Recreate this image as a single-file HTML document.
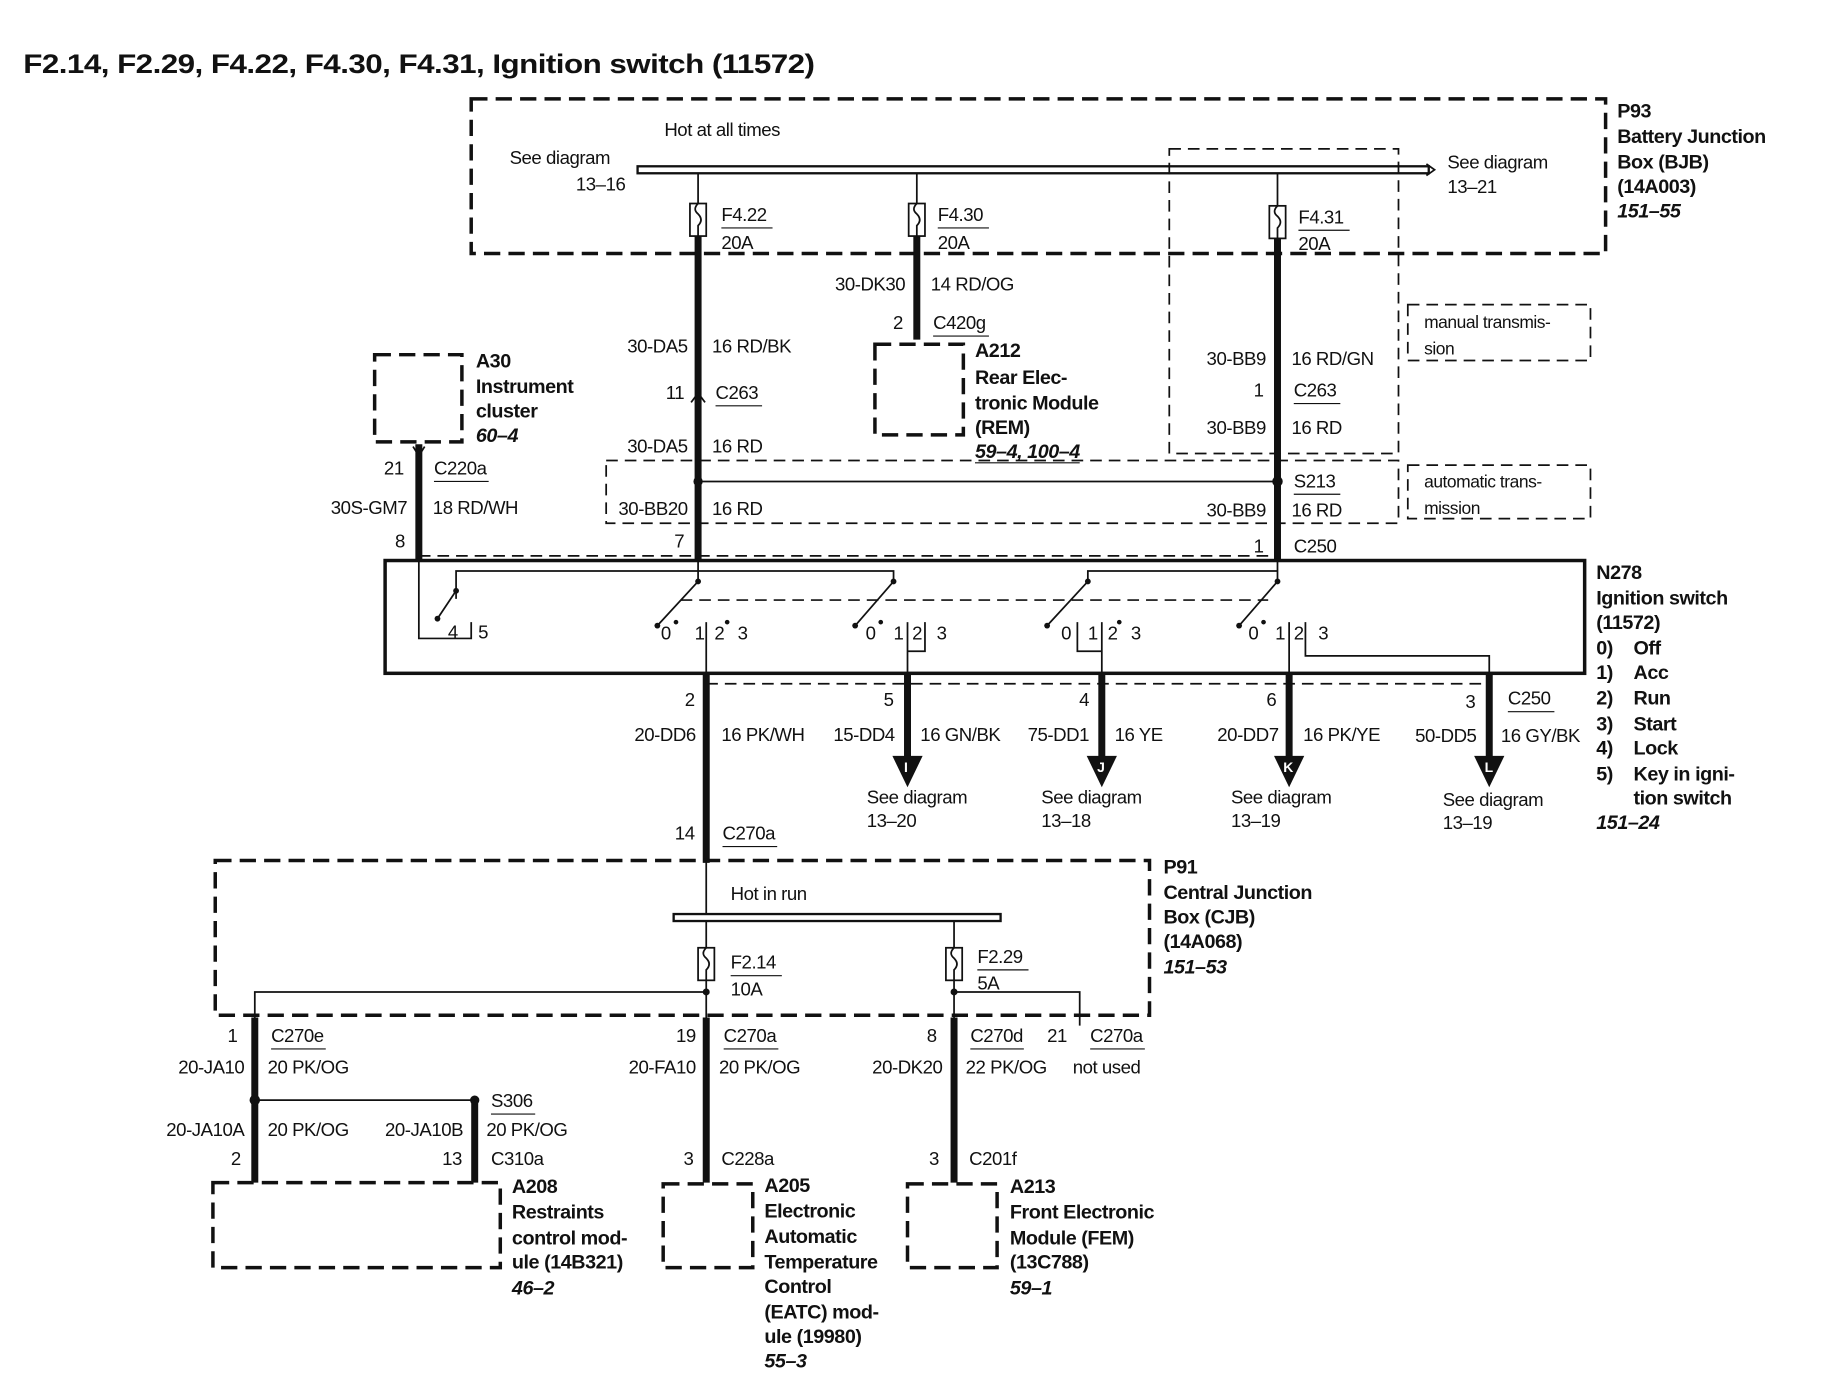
<!DOCTYPE html>
<html><head><meta charset="utf-8"><style>
html,body{margin:0;padding:0;background:#fff}
svg{display:block}
text{font-family:"Liberation Sans",Arial,sans-serif;font-size:16px;fill:#111;letter-spacing:-0.4px}
.b{font-weight:bold;font-size:17px}
.i{font-weight:bold;font-style:italic;font-size:17px}
.r{text-anchor:end}
.dk{fill:none;stroke:#111;stroke-width:3;stroke-dasharray:14 7}
.dn{fill:none;stroke:#111;stroke-width:1.5;stroke-dasharray:10 6}
.w{stroke:#111;stroke-width:6;fill:none}
.t{stroke:#111;stroke-width:1.5;fill:none}
.u{stroke:#111;stroke-width:1}
</style></head><body>
<svg width="1822" height="1392" viewBox="0 0 1566 1197" preserveAspectRatio="none" xmlns="http://www.w3.org/2000/svg">
<text x="20" y="63" style="font-size:23px;font-weight:bold" textLength="680" lengthAdjust="spacingAndGlyphs">F2.14, F2.29, F4.22, F4.30, F4.31, Ignition switch (11572)</text>

<!-- BJB -->
<rect x="405" y="85" width="975" height="133" class="dk"/>
<text x="1390" y="101" class="b">P93</text>
<text x="1390" y="123" class="b">Battery Junction</text>
<text x="1390" y="145" class="b">Box (BJB)</text>
<text x="1390" y="166" class="b">(14A003)</text>
<text x="1390" y="187" class="i">151–55</text>
<text x="571" y="117">Hot at all times</text>
<text x="438" y="141">See diagram</text>
<text x="495" y="164">13–16</text>
<rect x="548" y="143" width="680" height="6" fill="#fff" stroke="#111" stroke-width="2"/>
<path d="M1226 141 L1233 146 L1226 151" class="t"/>
<text x="1244" y="145">See diagram</text>
<text x="1244" y="166">13–21</text>
<rect x="1005" y="128" width="197" height="262" class="dn"/>

<line x1="600" y1="149" x2="600" y2="175" class="t"/><rect x="593" y="175" width="14" height="28" fill="#fff" stroke="#111" stroke-width="1.5"/><path d="M600 175 q-5 5 0 9 q5 5 0 10 v9" class="t"/>
<line x1="788" y1="149" x2="788" y2="175" class="t"/><rect x="781" y="175" width="14" height="28" fill="#fff" stroke="#111" stroke-width="1.5"/><path d="M788 175 q-5 5 0 9 q5 5 0 10 v9" class="t"/>
<line x1="1098" y1="149" x2="1098" y2="177" class="t"/><rect x="1091" y="177" width="14" height="28" fill="#fff" stroke="#111" stroke-width="1.5"/><path d="M1098 177 q-5 5 0 9 q5 5 0 10 v9" class="t"/>
<text x="620" y="190">F4.22</text><line x1="620" y1="196" x2="664" y2="196" class="u"/><text x="620" y="214">20A</text>
<text x="806" y="190">F4.30</text><line x1="806" y1="196" x2="850" y2="196" class="u"/><text x="806" y="214">20A</text>
<text x="1116" y="192">F4.31</text><line x1="1116" y1="198" x2="1160" y2="198" class="u"/><text x="1116" y="215">20A</text>

<line x1="600" y1="203" x2="600" y2="482" class="w"/>
<text x="591" y="303" class="r">30-DA5</text><text x="612" y="303">16 RD/BK</text>
<text x="588" y="343" class="r">11</text><text x="615" y="343">C263</text><line x1="615" y1="349" x2="655" y2="349" class="u"/>
<path d="M594 346 L600 338 L606 346" class="t"/>
<text x="591" y="389" class="r">30-DA5</text><text x="612" y="389">16 RD</text>
<circle cx="600" cy="414" r="4" fill="#111"/>
<line x1="600" y1="414" x2="1098" y2="414" class="t"/>
<rect x="521" y="396" width="681" height="54" class="dn"/>
<text x="591" y="443" class="r">30-BB20</text><text x="612" y="443">16 RD</text>
<text x="588" y="471" class="r">7</text>

<line x1="788" y1="203" x2="788" y2="292" class="w"/>
<text x="778" y="250" class="r">30-DK30</text><text x="800" y="250">14 RD/OG</text>
<text x="776" y="283" class="r">2</text><text x="802" y="283">C420g</text><line x1="802" y1="289" x2="850" y2="289" class="u"/>
<rect x="752" y="296" width="76" height="78" class="dk"/>
<text x="838" y="307" class="b">A212</text>
<text x="838" y="330" class="b">Rear Elec-</text>
<text x="838" y="352" class="b">tronic Module</text>
<text x="838" y="373" class="b">(REM)</text>
<text x="838" y="394" class="i">59–4, 100–4</text><line x1="838" y1="398" x2="928" y2="398" class="u"/>

<line x1="1098" y1="205" x2="1098" y2="482" class="w"/>
<text x="1088" y="314" class="r">30-BB9</text><text x="1110" y="314">16 RD/GN</text>
<text x="1086" y="341" class="r">1</text><text x="1112" y="341">C263</text><line x1="1112" y1="347" x2="1152" y2="347" class="u"/>
<text x="1088" y="373" class="r">30-BB9</text><text x="1110" y="373">16 RD</text>
<circle cx="1098" cy="414" r="4.5" fill="#111"/>
<text x="1112" y="419">S213</text><line x1="1112" y1="425" x2="1152" y2="425" class="u"/>
<text x="1088" y="444" class="r">30-BB9</text><text x="1110" y="444">16 RD</text>
<text x="1086" y="475" class="r">1</text><text x="1112" y="475">C250</text>

<rect x="1210" y="262" width="157" height="48" class="dn"/>
<text x="1224" y="282" style="font-size:15px">manual transmis-</text><text x="1224" y="305" style="font-size:15px">sion</text>
<rect x="1210" y="400" width="157" height="46" class="dn"/>
<text x="1224" y="419" style="font-size:15px">automatic trans-</text><text x="1224" y="442" style="font-size:15px">mission</text>

<rect x="322" y="305" width="75" height="75" class="dk"/>
<text x="409" y="316" class="b">A30</text>
<text x="409" y="338" class="b">Instrument</text>
<text x="409" y="359" class="b">cluster</text>
<text x="409" y="380" class="i">60–4</text>
<line x1="360" y1="382" x2="360" y2="482" class="w"/>
<path d="M355 384 L360 392 L365 384" class="t"/>
<text x="347" y="408" class="r">21</text><text x="373" y="408">C220a</text><line x1="373" y1="414" x2="420" y2="414" class="u"/>
<text x="350" y="442" class="r">30S-GM7</text><text x="372" y="442">18 RD/WH</text>
<text x="348" y="471" class="r">8</text>
<line x1="360" y1="478" x2="1098" y2="478" class="dn"/>

<rect x="331" y="482" width="1031" height="97" fill="none" stroke="#111" stroke-width="3"/>
<text x="1372" y="498" class="b">N278</text>
<text x="1372" y="520" class="b">Ignition switch</text>
<text x="1372" y="541" class="b">(11572)</text>
<text x="1372" y="563" class="b">0)</text><text x="1404" y="563" class="b">Off</text>
<text x="1372" y="584" class="b">1)</text><text x="1404" y="584" class="b">Acc</text>
<text x="1372" y="606" class="b">2)</text><text x="1404" y="606" class="b">Run</text>
<text x="1372" y="628" class="b">3)</text><text x="1404" y="628" class="b">Start</text>
<text x="1372" y="649" class="b">4)</text><text x="1404" y="649" class="b">Lock</text>
<text x="1372" y="671" class="b">5)</text><text x="1404" y="671" class="b">Key in igni-</text>
<text x="1404" y="692" class="b">tion switch</text>
<text x="1372" y="713" class="i">151–24</text>

<polyline points="392,515 392,491 768,491 768,500" class="t"/>
<polyline points="935,500 935,491 1098,491" class="t"/>
<line x1="600" y1="482" x2="600" y2="500" class="t"/>
<line x1="1098" y1="482" x2="1098" y2="500" class="t"/>
<line x1="585" y1="516" x2="1090" y2="516" class="dn"/>
<line x1="392" y1="508" x2="376" y2="532" class="t"/><circle cx="392" cy="508" r="2.5" fill="#111"/><circle cx="376" cy="532" r="2.5" fill="#111"/>
<line x1="600" y1="500" x2="565" y2="538" class="t"/><circle cx="600" cy="500" r="2.5" fill="#111"/><circle cx="565" cy="538" r="2.5" fill="#111"/>
<line x1="768" y1="500" x2="735" y2="538" class="t"/><circle cx="768" cy="500" r="2.5" fill="#111"/><circle cx="735" cy="538" r="2.5" fill="#111"/>
<line x1="935" y1="500" x2="900" y2="538" class="t"/><circle cx="935" cy="500" r="2.5" fill="#111"/><circle cx="900" cy="538" r="2.5" fill="#111"/>
<line x1="1098" y1="500" x2="1065" y2="538" class="t"/><circle cx="1098" cy="500" r="2.5" fill="#111"/><circle cx="1065" cy="538" r="2.5" fill="#111"/>
<polyline points="360,482 360,549 405,549 405,535" class="t"/>
<text x="385" y="549">4</text><text x="411" y="549">5</text>
<text x="568" y="550">0</text><circle cx="581" cy="535" r="2" fill="#111"/><text x="597" y="550">1</text><line x1="607" y1="535" x2="607" y2="580" class="t"/><text x="614" y="550">2</text><circle cx="625" cy="535" r="2" fill="#111"/><text x="634" y="550">3</text>
<text x="744" y="550">0</text><circle cx="757" cy="535" r="2" fill="#111"/><text x="768" y="550">1</text><line x1="780" y1="535" x2="780" y2="580" class="t"/><text x="784" y="550">2</text><polyline points="780,560 795,560 795,535" class="t"/><text x="805" y="550">3</text>
<text x="912" y="550">0</text><polyline points="926,535 926,560 947,560" class="t"/><text x="935" y="550">1</text><line x1="947" y1="535" x2="947" y2="580" class="t"/><text x="952" y="550">2</text><circle cx="962" cy="535" r="2" fill="#111"/><text x="972" y="550">3</text>
<text x="1073" y="550">0</text><circle cx="1086" cy="535" r="2" fill="#111"/><text x="1096" y="550">1</text><line x1="1108" y1="535" x2="1108" y2="580" class="t"/><text x="1112" y="550">2</text><polyline points="1122,535 1122,564 1280,564 1280,580" class="t"/><text x="1133" y="550">3</text>

<line x1="607" y1="588" x2="1280" y2="588" class="dn"/>
<line x1="607" y1="580" x2="607" y2="742" class="w"/>
<line x1="780" y1="580" x2="780" y2="655" class="w"/>
<line x1="947" y1="580" x2="947" y2="655" class="w"/>
<line x1="1108" y1="580" x2="1108" y2="655" class="w"/>
<line x1="1280" y1="580" x2="1280" y2="655" class="w"/>
<g fill="#111">
<path d="M767 650 H793 L780 677 Z"/><path d="M934 650 H960 L947 677 Z"/><path d="M1095 650 H1121 L1108 677 Z"/><path d="M1267 650 H1293 L1280 677 Z"/>
</g>
<text x="777" y="664" style="fill:#fff;font-size:12px;font-weight:bold">I</text><text x="943" y="664" style="fill:#fff;font-size:12px;font-weight:bold">J</text><text x="1103" y="664" style="fill:#fff;font-size:12px;font-weight:bold">K</text><text x="1276" y="664" style="fill:#fff;font-size:12px;font-weight:bold">L</text>
<text x="597" y="607" class="r">2</text><text x="768" y="607" class="r">5</text><text x="936" y="607" class="r">4</text><text x="1097" y="607" class="r">6</text><text x="1268" y="609" class="r">3</text>
<text x="1296" y="606">C250</text><line x1="1296" y1="612" x2="1336" y2="612" class="u"/>
<text x="598" y="637" class="r">20-DD6</text><text x="620" y="637">16 PK/WH</text>
<text x="769" y="637" class="r">15-DD4</text><text x="791" y="637">16 GN/BK</text>
<text x="936" y="637" class="r">75-DD1</text><text x="958" y="637">16 YE</text>
<text x="1099" y="637" class="r">20-DD7</text><text x="1120" y="637">16 PK/YE</text>
<text x="1269" y="638" class="r">50-DD5</text><text x="1290" y="638">16 GY/BK</text>
<text x="745" y="691">See diagram</text><text x="745" y="711">13–20</text>
<text x="895" y="691">See diagram</text><text x="895" y="711">13–18</text>
<text x="1058" y="691">See diagram</text><text x="1058" y="711">13–19</text>
<text x="1240" y="693">See diagram</text><text x="1240" y="713">13–19</text>
<text x="597" y="722" class="r">14</text><text x="621" y="722">C270a</text><line x1="621" y1="728" x2="668" y2="728" class="u"/>

<rect x="185" y="740" width="803" height="133" class="dk"/>
<text x="1000" y="751" class="b">P91</text>
<text x="1000" y="773" class="b">Central Junction</text>
<text x="1000" y="794" class="b">Box (CJB)</text>
<text x="1000" y="815" class="b">(14A068)</text>
<text x="1000" y="837" class="i">151–53</text>
<line x1="607" y1="740" x2="607" y2="786" class="t"/>
<text x="628" y="774">Hot in run</text>
<rect x="579" y="786" width="281" height="6" fill="#fff" stroke="#111" stroke-width="2"/>
<line x1="607" y1="792" x2="607" y2="815" class="t"/><rect x="600" y="815" width="14" height="28" fill="#fff" stroke="#111" stroke-width="1.5"/><path d="M607 815 q-5 5 0 9 q5 5 0 10 v9" class="t"/>
<line x1="820" y1="792" x2="820" y2="815" class="t"/><rect x="813" y="815" width="14" height="28" fill="#fff" stroke="#111" stroke-width="1.5"/><path d="M820 815 q-5 5 0 9 q5 5 0 10 v9" class="t"/>
<text x="628" y="833">F2.14</text><line x1="628" y1="839" x2="672" y2="839" class="u"/><text x="628" y="856">10A</text>
<text x="840" y="828">F2.29</text><line x1="840" y1="834" x2="884" y2="834" class="u"/><text x="840" y="851">5A</text>
<line x1="607" y1="843" x2="607" y2="875" class="t"/>
<circle cx="607" cy="853" r="3" fill="#111"/>
<polyline points="607,853 219,853 219,875" class="t"/>
<line x1="820" y1="843" x2="820" y2="875" class="t"/>
<circle cx="820" cy="853" r="3" fill="#111"/>
<polyline points="820,853 928,853 928,882" class="t"/>

<line x1="219" y1="875" x2="219" y2="1017" class="w"/>
<line x1="408" y1="946" x2="408" y2="1017" class="w"/>
<line x1="607" y1="875" x2="607" y2="1017" class="w"/>
<line x1="820" y1="875" x2="820" y2="1017" class="w"/>
<circle cx="219" cy="946" r="4.5" fill="#111"/><circle cx="408" cy="946" r="4" fill="#111"/>
<line x1="219" y1="946" x2="408" y2="946" class="t"/>

<text x="204" y="896" class="r">1</text><text x="233" y="896">C270e</text><line x1="233" y1="902" x2="280" y2="902" class="u"/>
<text x="210" y="923" class="r">20-JA10</text><text x="230" y="923">20 PK/OG</text>
<text x="422" y="952">S306</text><line x1="422" y1="958" x2="460" y2="958" class="u"/>
<text x="210" y="977" class="r">20-JA10A</text><text x="230" y="977">20 PK/OG</text>
<text x="398" y="977" class="r">20-JA10B</text><text x="418" y="977">20 PK/OG</text>
<text x="207" y="1002" class="r">2</text><text x="397" y="1002" class="r">13</text><text x="422" y="1002">C310a</text>
<text x="598" y="896" class="r">19</text><text x="622" y="896">C270a</text><line x1="622" y1="902" x2="669" y2="902" class="u"/>
<text x="598" y="923" class="r">20-FA10</text><text x="618" y="923">20 PK/OG</text>
<text x="596" y="1002" class="r">3</text><text x="620" y="1002">C228a</text>
<text x="805" y="896" class="r">8</text><text x="834" y="896">C270d</text><line x1="834" y1="902" x2="880" y2="902" class="u"/>
<text x="900" y="896">21</text><text x="937" y="896">C270a</text><line x1="937" y1="902" x2="984" y2="902" class="u"/>
<text x="810" y="923" class="r">20-DK20</text><text x="830" y="923">22 PK/OG</text><text x="922" y="923">not used</text>
<text x="807" y="1002" class="r">3</text><text x="833" y="1002">C201f</text>

<rect x="183" y="1017" width="247" height="73" class="dk"/>
<text x="440" y="1026" class="b">A208</text>
<text x="440" y="1048" class="b">Restraints</text>
<text x="440" y="1070" class="b">control mod-</text>
<text x="440" y="1091" class="b">ule (14B321)</text>
<text x="440" y="1113" class="i">46–2</text>

<rect x="570" y="1018" width="77" height="72" class="dk"/>
<text x="657" y="1025" class="b">A205</text>
<text x="657" y="1047" class="b">Electronic</text>
<text x="657" y="1069" class="b">Automatic</text>
<text x="657" y="1091" class="b">Temperature</text>
<text x="657" y="1112" class="b">Control</text>
<text x="657" y="1134" class="b">(EATC) mod-</text>
<text x="657" y="1155" class="b">ule (19980)</text>
<text x="657" y="1176" class="i">55–3</text>

<rect x="780" y="1018" width="77" height="72" class="dk"/>
<text x="868" y="1026" class="b">A213</text>
<text x="868" y="1048" class="b">Front Electronic</text>
<text x="868" y="1070" class="b">Module (FEM)</text>
<text x="868" y="1091" class="b">(13C788)</text>
<text x="868" y="1113" class="i">59–1</text>
</svg>
</body></html>
